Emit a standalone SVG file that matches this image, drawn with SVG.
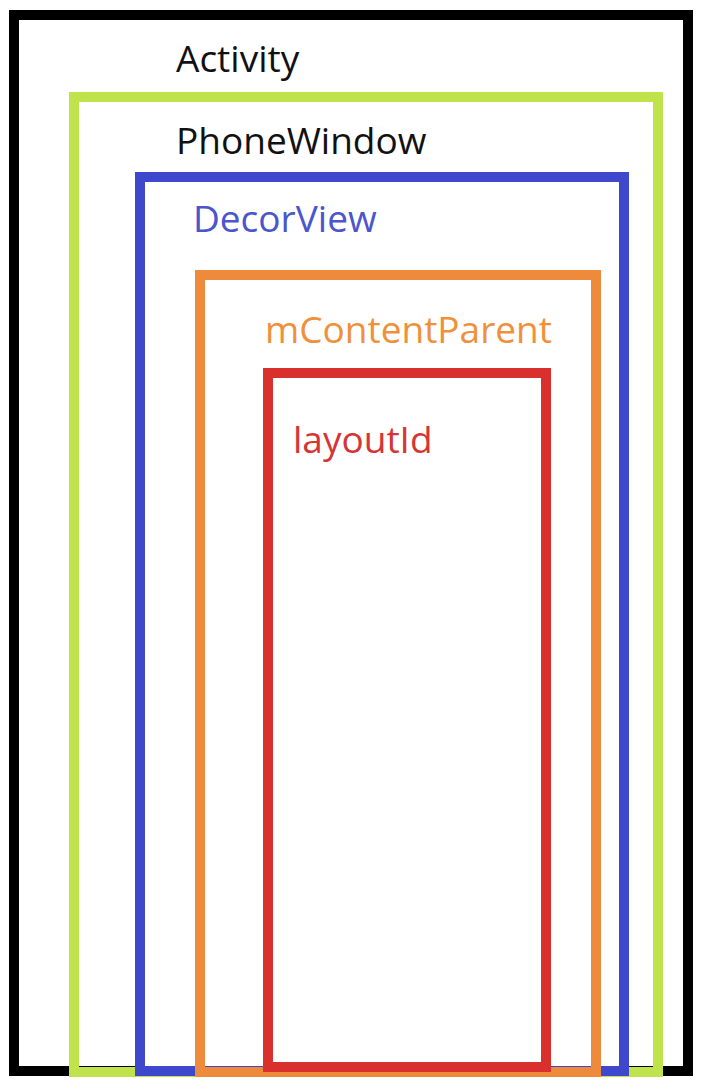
<svg xmlns="http://www.w3.org/2000/svg" width="704" height="1086" viewBox="0 0 704 1086">
<style>
.box{fill:none;stroke-width:10}
.lbl{font-family:"Open Sans","Liberation Sans",sans-serif;font-size:37px}
</style>
<rect width="704" height="1086" fill="#ffffff"/>
<g id="activity">
<rect class="box" x="14" y="15" width="674" height="1056" stroke="#000000"/>
<text class="lbl" x="176" y="72" fill="#111111">Activity</text>
</g>
<g id="phonewindow">
<rect class="box" x="74" y="97" width="584" height="975" stroke="#bfe34a"/>
<text class="lbl" x="176" y="154" fill="#111111">PhoneWindow</text>
</g>
<g id="decorview">
<rect class="box" x="140" y="177" width="484" height="894" stroke="#3f48cc"/>
<text class="lbl" x="193" y="232" fill="#4b55cc">DecorView</text>
</g>
<g id="mcontentparent">
<rect class="box" x="200" y="275" width="396" height="797" stroke="#ee8a3c"/>
<text class="lbl" x="265" y="343" fill="#f0903a">mContentParent</text>
</g>
<g id="layoutid">
<rect class="box" x="268" y="373" width="278" height="694" stroke="#d9302e"/>
<text class="lbl" x="293" y="453" fill="#d63535">layoutId</text>
</g>
<g id="connectors"></g>
</svg>
